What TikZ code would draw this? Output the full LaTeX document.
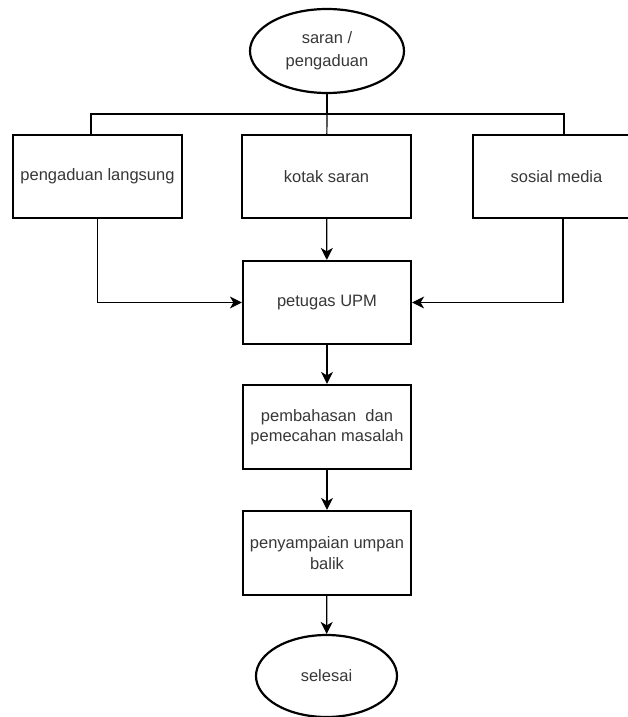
\documentclass[tikz,border=0pt]{standalone}
\usepackage{fontspec}
\setmainfont{Liberation Sans}
\usetikzlibrary{shapes.geometric, arrows.meta, positioning}
\definecolor{text_gray}{RGB}{55,55,55}
\tikzset{
  box/.style={draw=black, line width=2.2pt, rectangle, minimum width=168pt, minimum height=83pt, align=center, text=text_gray, font=\fontsize{16.5}{20.5}\selectfont},
  terminal/.style={draw=black, line width=2.2pt, ellipse, align=center, text=text_gray, font=\fontsize{16.5}{23}\selectfont},
  busline/.style={draw=black, line width=2pt},
  link/.style={draw=black, line width=1.2pt},
  flow/.style={link, -{Stealth[length=12pt, width=12pt, inset=3.5pt]}}
}

\begin{document}
\begin{tikzpicture}[x=1pt, y=-1pt]
        \useasboundingbox (0,0) rectangle (628,717);
        \clip (0,0) rectangle (628,717);
        % start and sources
        \node[terminal, minimum width=154pt, minimum height=84pt] (start) at (327,51) {saran /\\pengaduan};
        \node[box, minimum width=169pt] (langsung) at (97.5,176.5) {pengaduan langsung};
        \node[box, minimum width=169pt] (kotak) at (326.5,176.5) {kotak saran};
        \node[box, minimum width=167pt] (sosmed) at (556.5,176.5) {sosial media};
        % processing
        \node[box] (petugas) at (327,302.5) {petugas UPM};
        \node[box, minimum height=84pt] (bahas) at (327,427) {pembahasan\ \ dan\\pemecahan masalah};
        \node[box, minimum height=84pt] (balik) at (327,553) {penyampaian umpan\\balik};
        \node[terminal, minimum width=141pt, minimum height=82pt] (selesai) at (326.5,676) {selesai};
        % connectors
        \coordinate (bus) at (327,114);
        \draw[busline] (start) -- (bus);
        \draw[busline] (bus) -| ([xshift=-6.5pt]langsung.north);
        \draw[busline] (bus) -| ([xshift=7pt]sosmed.north);
        \draw[link] (bus) -- (kotak);
        \draw[flow] (langsung.south) |- (petugas.west);
        \draw[flow] ([xshift=6.5pt]sosmed.south) |- (petugas.east);
        \draw[flow] (kotak) -- (petugas);
        \draw[flow] (petugas) -- (bahas);
        \draw[flow] (bahas) -- (balik);
        \draw[flow] (balik) -- (selesai);
    \end{tikzpicture}
\end{document}
